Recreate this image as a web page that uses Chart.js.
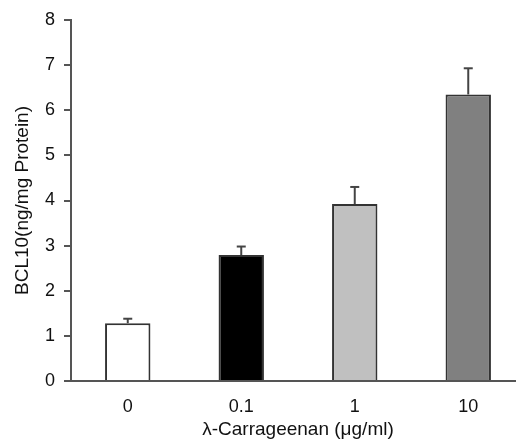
<!DOCTYPE html>
<html>
<head>
<meta charset="utf-8">
<script src="https://cdn.jsdelivr.net/npm/chart.js@4"></script>
<style>
  body { margin:0; overflow:hidden; background:#fff; }
  #wrap { position:absolute; left:0; top:0; width:525px; height:441px; }
</style>
</head>
<body>
<div id="wrap"><canvas id="myChart" width="525" height="441"></canvas></div>
<script>
const doses = ['0', '0.1', '1', '10'];
const bcl10 = [1.28, 2.79, 3.92, 6.35];
const sem = [0.10, 0.19, 0.38, 0.58];
const barColors = ['#ffffff', '#000000', '#c0c0c0', '#808080'];

// draws the upper error bars from the data through the y scale
const errorBars = {
  id: 'errorBars',
  afterDatasetsDraw(chart) {
    const ctx = chart.ctx;
    const y = chart.scales.y;
    const meta = chart.getDatasetMeta(0);
    ctx.save();
    ctx.strokeStyle = '#444';
    meta.data.forEach(function(bar, i) {
      const top = y.getPixelForValue(bcl10[i] + sem[i]);
      ctx.lineWidth = 2;
      ctx.beginPath();
      ctx.moveTo(bar.x, bar.y);
      ctx.lineTo(bar.x, top);
      ctx.stroke();
      ctx.beginPath();
      ctx.moveTo(bar.x - 4.5, top);
      ctx.lineTo(bar.x + 4.5, top);
      ctx.stroke();
    });
    ctx.restore();
  }
};

const font = 'Liberation Sans, Arial, sans-serif';
const ctx = document.getElementById('myChart').getContext('2d');
const myChart = new Chart(ctx, {
  type: 'bar',
  data: {
    labels: doses,
    datasets: [{
      data: bcl10,
      backgroundColor: barColors,
      borderColor: '#333',
      borderWidth: 2,
      borderSkipped: 'bottom',
      categoryPercentage: 1,
      barPercentage: 0.4
    }]
  },
  options: {
    responsive: false,
    animation: false,
    layout: { padding: { top: 20, left: 0, right: 0, bottom: 0 } },
    scales: {
      x: {
        grid: { display: false },
        border: { color: '#555', width: 2 },
        ticks: { color: '#111', padding: 7, font: { family: font, size: 18 } },
        title: {
          display: true,
          text: 'λ-Carrageenan (μg/ml)',
          color: '#111',
          padding: 0,
          font: { family: font, size: 19 }
        },
        afterFit: function(scale) { scale.height = 60; }
      },
      y: {
        min: 0,
        max: 8,
        grid: { drawOnChartArea: false, color: '#555', lineWidth: 2, tickLength: 7 },
        border: { color: '#555', width: 2 },
        ticks: { stepSize: 1, color: '#111', padding: 9, font: { family: font, size: 18 } },
        title: {
          display: true,
          text: 'BCL10(ng/mg Protein)',
          color: '#111',
          padding: { top: 11, bottom: 0 },
          font: { family: font, size: 19 }
        },
        afterFit: function(scale) { scale.width = 71; }
      }
    },
    plugins: {
      legend: { display: false },
      tooltip: { enabled: false }
    }
  },
  plugins: [errorBars]
});
</script>
</body>
</html>
